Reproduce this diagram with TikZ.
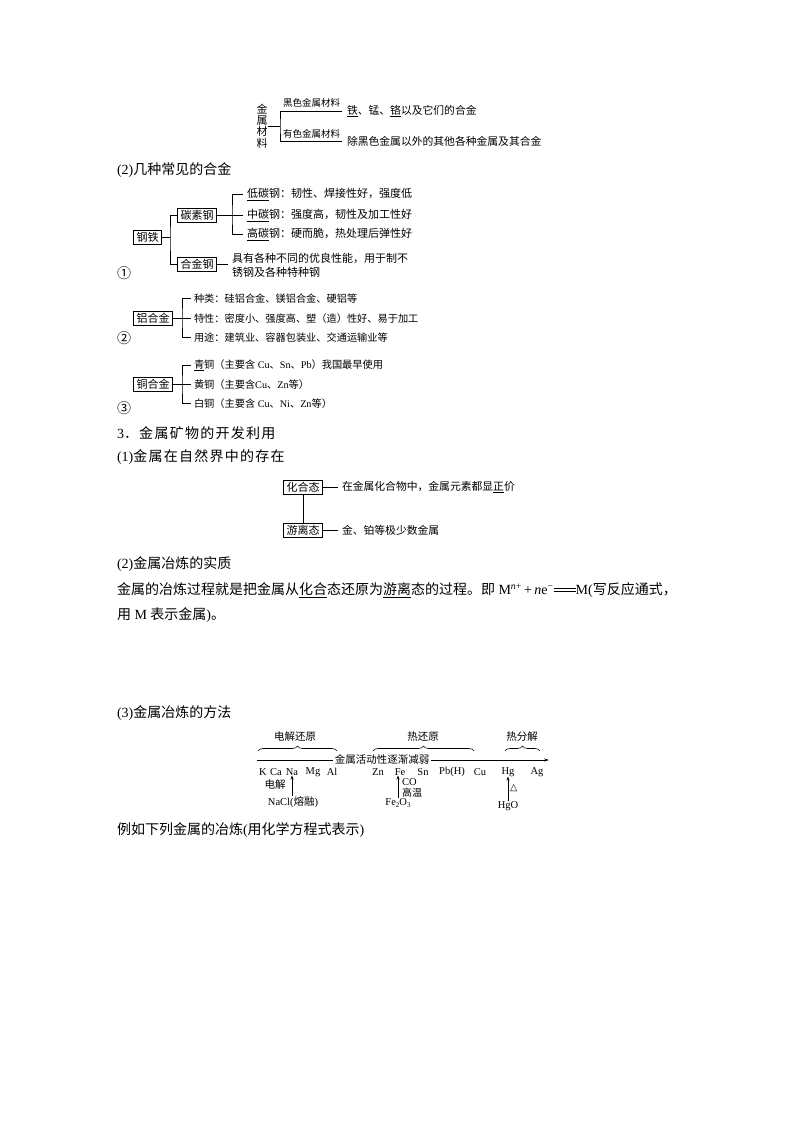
\documentclass[tikz,border=0pt]{standalone}
\usepackage{fontspec}
\setmainfont{Noto Sans CJK SC}
\newfontfamily\tnr{Liberation Serif}
\newfontfamily\dejavu{DejaVu Sans}
\usetikzlibrary{decorations.pathreplacing,arrows.meta}
\newcommand\dbleq{\raisebox{3pt}{\rule{22pt}{0.5pt}}\hspace{-22pt}\raisebox{5.5pt}{\rule{22pt}{0.5pt}}}
\newcommand\ul[1]{\underline{#1}}
\newcommand\lowsub[1]{\raisebox{-2pt}{\fontsize{7}{7}\selectfont #1}}
\begin{document}
\begin{tikzpicture}[x=1pt,y=-1pt,
  every node/.style={inner sep=0pt,outer sep=0pt},
  body/.style={anchor=west,font=\fontsize{14}{16}\selectfont},
  bodysp/.style={anchor=west,font=\fontsize{14}{16}\selectfont\addfontfeature{LetterSpace=9}},
  lbl/.style={anchor=west,font=\fontsize{10.8}{12}\selectfont,inner xsep=5pt},
  lblb/.style={anchor=west,font=\fontsize{11}{14}\selectfont,inner xsep=4pt,align=left},
  lbla/.style={anchor=west,font=\fontsize{10.2}{12}\selectfont,inner xsep=3pt},
  tinyl/.style={anchor=west,font=\fontsize{9.5}{10}\selectfont},
  bx/.style={draw,line width=0.6pt,inner xsep=3pt,inner ysep=2pt,font=\fontsize{11}{12}\selectfont},
  ln/.style={line width=0.6pt},
  metal/.style={font=\tnr\fontsize{10.5}{12}\selectfont},
  small/.style={font=\fontsize{10.5}{12}\selectfont},
  up/.style={line width=0.6pt,-{Stealth[length=4pt,width=3pt]}},
  brc/.style={line width=0.6pt,decorate,decoration={brace,amplitude=5pt}},
]
\useasboundingbox (0,0) rectangle (800,1132);
\fill[white] (0,0) rectangle (800,1132);

% ---------- top: metal materials ----------
\node[font=\fontsize{11}{11.4}\selectfont,align=center] (jscl) at (262,126) {金\\属\\材\\料};
\coordinate (vt) at (280,126);
\node[lbl] (f1) at (342,111) {\ul{铁}、锰、\ul{铬}以及它们的合金};
\node[lbl] (f2) at (342,141.5) {除黑色金属以外的其他各种金属及其合金};
\draw[ln] (jscl.east) -- (vt);
\draw[ln] (f1.west) -| (vt) |- (f2.west);
\node[tinyl] (h1) at (283,103) {黑色金属材料};
\node[tinyl] (h2) at (283,134) {有色金属材料};

% ---------- (2) alloys ----------
\node[body] (s2) at (117,170) {{\tnr (2)}几种常见的合金};

% steel
\node[bx] (gt) at (147.5,237.5) {钢铁};
\node[bx] (tsg) at (197,215.5) {碳素钢};
\node[bx] (hjg) at (197,264) {合金钢};
\coordinate (v1) at (170,237.5);
\draw[ln] (gt.east) -- (v1);
\draw[ln] (tsg.west) -| (v1) |- (hjg.west);
\coordinate (v2) at (232,215.5);
\node[lblb] (t1) at (243,194.3) {\ul{低碳}钢：韧性、焊接性好，强度低};
\node[lblb] (t2) at (243,215.5) {\ul{中碳}钢：强度高，韧性及加工性好};
\node[lblb] (t3) at (243,234.5) {\ul{高碳}钢：硬而脆，热处理后弹性好};
\draw[ln] (tsg.east) -- (t2.west);
\draw[ln] (t1.west) -| (v2) |- (t3.west);
\node[lblb,font=\fontsize{11}{14}\selectfont] (t4) at (228,265) {具有各种不同的优良性能，用于制不\\锈钢及各种特种钢};
\draw[ln] (hjg.east) -- (t4.west |- hjg.east);
\node[body] (n1) at (117,273) {①};

% aluminium
\node[bx] (lhj) at (153,318.3) {铝合金};
\coordinate (v3) at (182,318.3);
\node[lbla] (a1) at (191,298.3) {种类：硅铝合金、镁铝合金、硬铝等};
\node[lbla] (a2) at (191,318.3) {特性：密度小、强度高、塑（造）性好、易于加工};
\node[lbla] (a3) at (191,337.5) {用途：建筑业、容器包装业、交通运输业等};
\draw[ln] (lhj.east) -- (a2.west);
\draw[ln] (a1.west) -| (v3) |- (a3.west);
\node[body] (n2) at (117,338) {②};

% copper
\node[bx] (thj) at (153,384.5) {铜合金};
\coordinate (v4) at (182,384.5);
\node[lbla] (c1) at (191,365.5) {\ul{青}铜（主要含{\tnr\ Cu}、{\tnr Sn}、{\tnr Pb}）我国最早使用};
\node[lbla] (c2) at (191,384.5) {黄铜（主要含{\tnr Cu}、{\tnr Zn}等）};
\node[lbla] (c3) at (191,403.3) {白铜（主要含{\tnr\ Cu}、{\tnr Ni}、{\tnr Zn}等）};
\draw[ln] (thj.east) -- (c2.west);
\draw[ln] (c1.west) -| (v4) |- (c3.west);
\node[body] (n3) at (117,408) {③};

% ---------- 3 ----------
\node[bodysp] (s3) at (117,433) {{\tnr 3}．金属矿物的开发利用};
\node[bodysp] (s31) at (117,457) {{\tnr (1)}金属在自然界中的存在};

\node[bx] (hht) at (303,487.5) {化合态};
\node[bx] (ylt) at (303,530.5) {游离态};
\draw[ln] (hht) -- (ylt);
\node[lbl,inner xsep=4pt,font=\fontsize{10.8}{12}\selectfont] (st1) at (338,487.5) {在金属化合物中，金属元素都显\ul{正}价};
\node[lbl,inner xsep=4pt,font=\fontsize{10.8}{12}\selectfont] (st2) at (338,530.5) {金、铂等极少数金属};
\draw[ln] (hht.east) -- (st1.west);
\draw[ln] (ylt.east) -- (st2.west);

% ---------- (2) essence ----------
\node[body] (s32) at (117,564) {{\tnr (2)}金属冶炼的实质};
\node[body] (p1) at (117,590) {金属的冶炼过程就是把金属从\ul{化合}态还原为\ul{游离}态的过程。即{\tnr\ M\textsuperscript{\itshape n\upshape +}\,+\,{\itshape n}e\textsuperscript{−}\dbleq M(}写反应通式，};
\node[body] (p2) at (117,615) {用{\tnr\ M }表示金属{\tnr )}。};

% ---------- (3) methods ----------
\node[body] (s33) at (117,713) {{\tnr (3)}金属冶炼的方法};

\draw[brc] (258,751) -- (337,751);
\draw[brc] (373,751) -- (474,751);
\draw[brc] (505,751) -- (540,751);
\node[small] (m1) at (295,737) {电解还原};
\node[small] (m2) at (423,737) {热还原};
\node[small] (m3) at (522,737) {热分解};

\coordinate (as) at (257,760);
\coordinate (ae) at (549,760);
\draw[line width=0.6pt,-{Stealth[length=5pt,width=3pt]}] (as) -- (ae);
\node[small,fill=white,inner xsep=1.5pt,inner ysep=1pt] (act) at (382,759) {金属活动性逐渐减弱};

\node[metal] (K) at (263,772) {K};
\node[metal] (Ca) at (276,772) {Ca};
\node[metal] (Na) at (292,772) {Na};
\node[metal] (Mg) at (313,772) {Mg};
\node[metal] (Al) at (332,772) {Al};
\node[metal] (Zn) at (378,772) {Zn};
\node[metal] (Fe) at (400,772) {Fe};
\node[metal] (Sn) at (423,772) {Sn};
\node[metal] (Pb) at (452,772) {Pb(H)};
\node[metal] (Cu) at (480,772) {Cu};
\node[metal] (Hg) at (508,772) {Hg};
\node[metal] (Ag) at (537,772) {Ag};

\node[small] (nacl) at (293,802) {{\tnr NaCl(}熔融{\tnr )}};
\draw[up] (nacl.north -| Na.south) -- (Na.south);
\node[small] (dj) at (275,785) {电解};

\node[metal] (feo) at (398,803) {Fe\lowsub{2}O\lowsub{3}};
\draw[up] (feo.north) -- (feo.north |- Fe.south);
\node[metal,anchor=west] (co) at (402,782) {CO};
\node[small,font=\fontsize{10}{12}\selectfont,anchor=west] (gw) at (402,793) {高温};

\node[metal] (hgo) at (508,806) {HgO};
\draw[up] (hgo.north) -- (Hg.south);
\node[anchor=west,font=\dejavu\fontsize{9.5}{10}\selectfont] (tri) at (510,788) {△};

\node[body] (ex) at (117,830) {例如下列金属的冶炼{\tnr (}用化学方程式表示{\tnr )}};
\end{tikzpicture}
\end{document}
